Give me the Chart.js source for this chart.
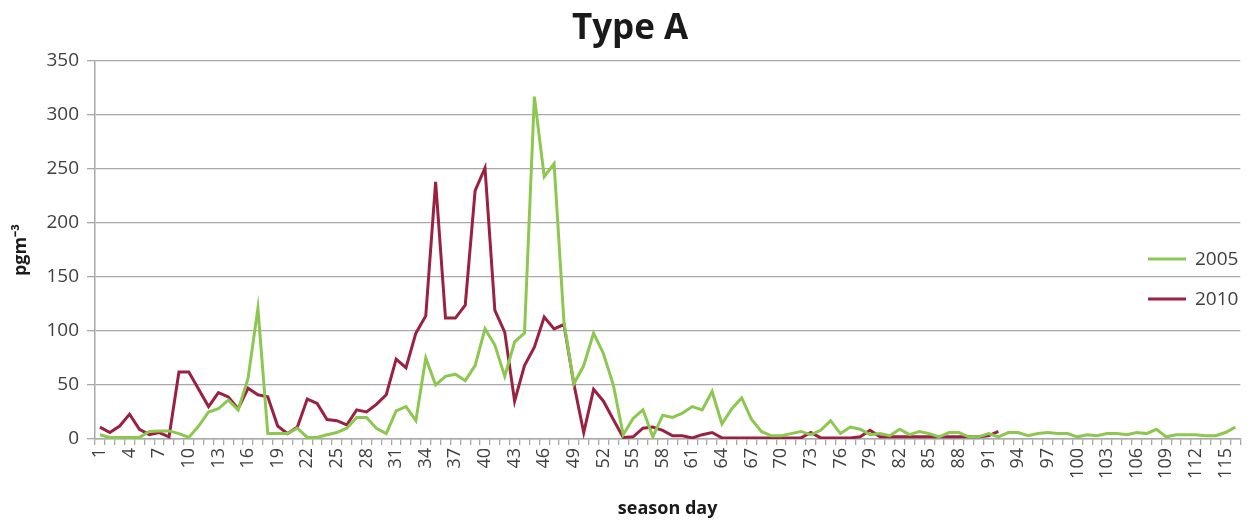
<!DOCTYPE html>
<html>
<head>
<meta charset="utf-8">
<title>Type A</title>
<script src="https://cdn.jsdelivr.net/npm/chart.js@4.4.1/dist/chart.umd.min.js"></script>
<style>
  html, body { margin: 0; padding: 0; background: #ffffff; }
  #wrap { width: 1260px; height: 520px; position: relative; }
</style>
</head>
<body>
<div id="wrap"><canvas id="chart" width="1260" height="520"></canvas></div>
<script>
// Season days 1..116 on the category axis
const seasonDays = Array.from({ length: 116 }, (_, i) => String(i + 1));

// Only every third day gets a printed label
const labelEvery = 3;

const seriesNames = ['2005', '2010'];

// Daily concentrations, pg m^-3
const values2005 = [
  4, 1.5, 1.5, 1.5, 1.5, 7, 7.5, 7.5, 5, 1.5,
  12, 25, 28, 36, 27, 56, 121, 5, 5, 5,
  10, 1.5, 1.5, 4, 6, 10, 20, 20, 10, 5,
  26, 30, 17, 75, 50, 58, 60, 54, 68, 102,
  87, 58, 90, 98, 317, 243, 255, 108, 51, 68,
  98, 79, 50, 4, 19, 27, 2, 22, 20, 24,
  30, 27, 44, 14, 28, 38, 18, 7, 3, 3,
  5, 7, 4, 8, 17, 5, 11, 9, 4, 5,
  3, 9, 4, 7, 5, 2, 6, 6, 2, 2,
  5, 2, 6, 6, 3, 5, 6, 5, 5, 2,
  4, 3, 5, 5, 4, 6, 5, 9, 2, 4,
  4, 4, 3, 3, 6, 11
];

const values2010 = [
  11, 6, 12, 23, 9, 4, 6, 2, 62, 62,
  46, 30, 43, 39, 28, 47, 41, 39, 12, 5,
  11, 37, 33, 18, 17, 13, 27, 25, 32, 41,
  74, 66, 98, 114, 238, 112, 112, 124, 230, 251,
  119, 99, 35, 68, 85, 113, 102, 106, 51, 6,
  46, 35, 18, 1.5, 2, 10, 11, 8, 3, 3,
  1, 4, 6, 1, 1, 1, 1, 1, 1, 1,
  1, 1, 6, 1, 1, 1, 1, 2, 8, 2,
  2, 2, 2, 2, 2, 2, 2, 2, 2, 2,
  3, 7
];

const yMin = 0, yMax = 350, yStep = 50;

const green = '#8cc850';
const maroon = '#9a2142';
const gridGrey = '#a8a8a8';
const textGrey = '#404040';
const fontFamily = "'Open Sans', 'Liberation Sans', sans-serif";

// Legend drawn as short line samples to the right of the plot
const lineLegend = {
  id: 'lineLegend',
  afterDraw(chart) {
    const ctx = chart.ctx;
    const x0 = 1148, len = 38, gap = 9;
    const rows = [259, 299];
    ctx.save();
    chart.data.datasets.forEach((ds, i) => {
      const y = rows[i];
      ctx.strokeStyle = ds.borderColor;
      ctx.lineWidth = 3;
      ctx.beginPath();
      ctx.moveTo(x0, y);
      ctx.lineTo(x0 + len, y);
      ctx.stroke();
      ctx.fillStyle = textGrey;
      ctx.font = '19px ' + fontFamily;
      ctx.textBaseline = 'middle';
      ctx.textAlign = 'left';
      ctx.fillText(ds.label, x0 + len + gap, y + 1);
    });
    ctx.restore();
  }
};

new Chart(document.getElementById('chart'), {
  type: 'line',
  data: {
    labels: seasonDays,
    datasets: [
      {
        label: seriesNames[0],
        data: values2005,
        borderColor: green,
        backgroundColor: green,
        borderWidth: 3,
        pointRadius: 0,
        tension: 0,
        fill: false
      },
      {
        label: seriesNames[1],
        data: values2010,
        borderColor: maroon,
        backgroundColor: maroon,
        borderWidth: 3,
        pointRadius: 0,
        tension: 0,
        fill: false
      }
    ]
  },
  options: {
    responsive: false,
    animation: false,
    devicePixelRatio: 1,
    layout: { padding: { top: 0, right: 10, bottom: 0, left: 10 } },
    plugins: {
      legend: { display: false },
      tooltip: { enabled: false },
      title: {
        display: true,
        text: 'Type A',
        color: '#1a1a1a',
        font: { family: fontFamily, size: 35, weight: 'bold' },
        padding: { top: 8, bottom: 11 }
      }
    },
    scales: {
      x: {
        type: 'category',
        offset: true,
        grid: {
          display: true,
          offset: true,
          drawOnChartArea: false,
          drawTicks: true,
          tickLength: 6,
          color: gridGrey,
          lineWidth: 1.3
        },
        border: { display: true, color: gridGrey, width: 1.5 },
        ticks: {
          autoSkip: false,
          minRotation: 90,
          maxRotation: 90,
          padding: 3,
          color: textGrey,
          font: { family: fontFamily, size: 18 },
          callback: (v, i) => (i % labelEvery === 0 ? seasonDays[i] : '')
        },
        title: {
          display: true,
          text: 'season day',
          color: '#1a1a1a',
          font: { family: fontFamily, size: 18, weight: 'bold' },
          padding: { top: 0, bottom: 0 }
        },
        afterFit(scale) { scale.height = 81; }
      },
      y: {
        min: yMin,
        max: yMax,
        grid: {
          color: gridGrey,
          lineWidth: 1.3,
          drawTicks: true,
          tickLength: 8
        },
        border: { display: true, color: gridGrey, width: 1.5 },
        ticks: {
          stepSize: yStep,
          padding: 8,
          color: textGrey,
          font: { family: fontFamily, size: 19 }
        },
        title: {
          display: true,
          text: 'pgm⁻³',
          color: '#1a1a1a',
          font: { family: fontFamily, size: 18, weight: 'bold' },
          padding: { top: 0, bottom: 0 }
        },
        afterFit(scale) { scale.width = 85; }
      }
    }
  },
  plugins: [lineLegend]
});
</script>
</body>
</html>
